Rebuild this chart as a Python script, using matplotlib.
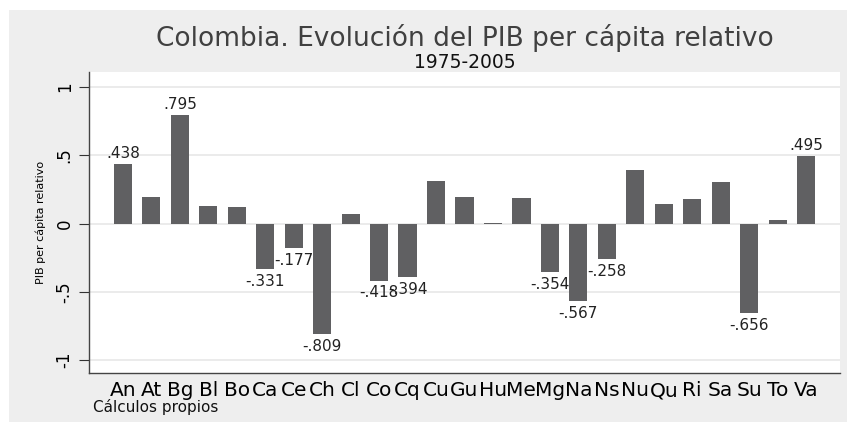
import matplotlib
matplotlib.use("Agg")
import matplotlib.pyplot as plt
from matplotlib.patches import Rectangle

# relative GDP per capita by department (Colombia, 1975-2005)
deptos = ["An", "At", "Bg", "Bl", "Bo", "Ca", "Ce", "Ch", "Cl", "Co", "Cq", "Cu", "Gu",
          "Hu", "Me", "Mg", "Na", "Ns", "Nu", "Qu", "Ri", "Sa", "Su", "To", "Va"]
pib_rel = [0.438, 0.195, 0.795, 0.127, 0.120, -0.331, -0.177, -0.809, 0.070, -0.418,
           -0.394, 0.315, 0.193, 0.005, 0.188, -0.354, -0.567, -0.258, 0.392, 0.143,
           0.180, 0.302, -0.656, 0.024, 0.495]
# only these get a value label in the original
etiquetados = ["An", "Bg", "Ca", "Ce", "Ch", "Co", "Cq", "Mg", "Na", "Ns", "Su", "Va"]

yticks = [-1, -0.5, 0, 0.5, 1]
ytick_labels = ["-1", "-.5", "0", ".5", "1"]

W, H = 847, 422
fig = plt.figure(figsize=(W / 100, H / 100), dpi=100, facecolor="white")
# grey stata-like background (image is cropped, white strip top/left)
fig.patches.append(Rectangle((9 / W, 0), 1 - 9 / W, (H - 10) / H,
                             transform=fig.transFigure, facecolor="#eeeeee",
                             edgecolor="none", zorder=-5))

ax = fig.add_axes([89 / W, (H - 373) / H, (840 - 89) / W, (373 - 72) / H])
ax.set_zorder(2)
ax.set_facecolor("white")

x = list(range(len(deptos)))
ax.bar(x, pib_rel, width=0.64, color="#606062", zorder=2)

for i, (d, v) in enumerate(zip(deptos, pib_rel)):
    if d not in etiquetados:
        continue
    txt = "%.3f" % v
    txt = txt.replace("0.", ".")
    if v >= 0:
        ax.annotate(txt, (i, v), xytext=(0, 2), textcoords="offset points",
                    ha="center", va="bottom", fontsize=11, color="#222222", zorder=3)
    else:
        ax.annotate(txt, (i, v), xytext=(0, -3.5), textcoords="offset points",
                    ha="center", va="top", fontsize=11, color="#222222", zorder=3)

ax.set_xlim(-1.19, len(deptos) - 1 + 1.19)
ax.set_ylim(-1.095, 1.11)
ax.set_yticks(yticks)
ax.set_yticklabels(ytick_labels, fontsize=12)
plt.setp(ax.get_yticklabels(), rotation=90, va="center")
ax.set_xticks(x)
ax.set_xticklabels(deptos, fontsize=14.5)
ax.tick_params(axis="x", length=0, pad=6)
ax.tick_params(axis="y", length=7, width=0.8, color="#333333", pad=4)

ax.grid(axis="y", color="#e8e8e8", linewidth=1.2, zorder=0)
ax.set_axisbelow(True)
for s in ["top", "right"]:
    ax.spines[s].set_visible(False)
for s in ["left", "bottom"]:
    ax.spines[s].set_color("#444444")
    ax.spines[s].set_linewidth(1.0)

ax.set_ylabel("PIB per cápita relativo", fontsize=8, labelpad=7)

cx = (89 + 840) / 2 / W
fig.text(cx, 1 - 38 / H, "Colombia. Evolución del PIB per cápita relativo",
         ha="center", va="center", fontsize=19, color="#404040")
fig.text(cx, 1 - 63 / H, "1975-2005", ha="center", va="center", fontsize=13.5, color="#111111")
fig.text(93 / W, 1 - 407 / H, "Cálculos propios", ha="left", va="center", fontsize=11,
         color="#111111")

plt.savefig("out.png", dpi=100)
